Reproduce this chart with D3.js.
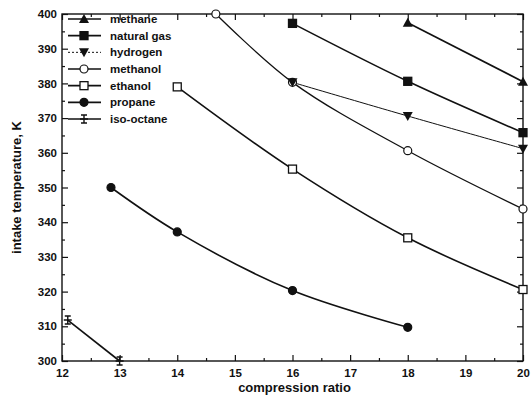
<!DOCTYPE html>
<html>
<head>
<meta charset="utf-8">
<script src="https://cdn.jsdelivr.net/npm/d3@7"></script>
<style>
  body { margin: 0; background: #fff; }
  text { font-family: "Liberation Sans", Arial, sans-serif; font-weight: bold; fill: #111; }
</style>
</head>
<body>
<div id="chart"></div>
<script>
// data
var fuels = ["methane", "natural gas", "hydrogen", "methanol", "ethanol", "propane", "iso-octane"];
var methane    = [[18, 397.5], [20, 380.5]];
var naturalGas = [[16, 397.3], [18, 380.6], [20, 365.8]];
var hydrogen   = [[16, 380.3], [18, 370.6], [20, 361.2]];
var methanol   = [[14.67, 400], [16, 380.3], [18, 360.6], [20, 343.8]];
var ethanol    = [[14, 379], [16, 355.3], [18, 335.5], [20, 320.6]];
var propane    = [[12.85, 350], [14, 337.2], [16, 320.3], [18, 309.7]];
var isoOctane  = [[12.1, 311.8], [13, 300]];
var xTicks = [12, 13, 14, 15, 16, 17, 18, 19, 20];
var yTicks = [300, 310, 320, 330, 340, 350, 360, 370, 380, 390, 400];

var series = [
  {name: fuels[0], pts: methane,    sym: "triUp",   w: 1.6},
  {name: fuels[1], pts: naturalGas, sym: "square",  w: 1.6},
  {name: fuels[2], pts: hydrogen,   sym: "triDown", w: 1.0, legendDash: "2,2"},
  {name: fuels[3], pts: methanol,   sym: "circleO", w: 1.3},
  {name: fuels[4], pts: ethanol,    sym: "squareO", w: 1.6},
  {name: fuels[5], pts: propane,    sym: "circle",  w: 1.6},
  {name: fuels[6], pts: isoOctane,  sym: "ibeam",   w: 1.6}
];

var width = 531, height = 403;
var margin = {top: 14, right: 8, bottom: 42, left: 62};

var svg = d3.select("#chart").append("svg")
    .attr("width", width)
    .attr("height", height);

var x = d3.scaleLinear().domain([12, 20]).range([margin.left, width - margin.right]);
var y = d3.scaleLinear().domain([300, 400]).range([height - margin.bottom, margin.top]);

var g = svg.append("g");

// frame
g.append("rect")
    .attr("x", x(12)).attr("y", y(400))
    .attr("width", x(20) - x(12)).attr("height", y(300) - y(400))
    .attr("fill", "none").attr("stroke", "#111").attr("stroke-width", 1.4);

// axes (ticks pointing inwards, minor ticks at halves)
var xMinor = d3.range(12.5, 20, 1);
var yMinor = d3.range(305, 400, 10);

var xAxis = g.append("g").attr("transform", "translate(0," + y(300) + ")")
    .call(d3.axisBottom(x).tickValues(xTicks).tickSize(-6).tickFormat(d3.format("d")));
g.append("g").attr("transform", "translate(0," + y(300) + ")")
    .call(d3.axisBottom(x).tickValues(xMinor).tickSize(-3).tickFormat(""));
g.append("g").attr("transform", "translate(0," + y(400) + ")")
    .call(d3.axisTop(x).tickValues(xTicks).tickSize(-6).tickFormat(""));
g.append("g").attr("transform", "translate(0," + y(400) + ")")
    .call(d3.axisTop(x).tickValues(xMinor).tickSize(-3).tickFormat(""));

var yAxis = g.append("g").attr("transform", "translate(" + x(12) + ",0)")
    .call(d3.axisLeft(y).tickValues(yTicks).tickSize(-6).tickFormat(d3.format("d")));
g.append("g").attr("transform", "translate(" + x(12) + ",0)")
    .call(d3.axisLeft(y).tickValues(yMinor).tickSize(-3).tickFormat(""));
g.append("g").attr("transform", "translate(" + x(20) + ",0)")
    .call(d3.axisRight(y).tickValues(yTicks).tickSize(-6).tickFormat(""));
g.append("g").attr("transform", "translate(" + x(20) + ",0)")
    .call(d3.axisRight(y).tickValues(yMinor).tickSize(-3).tickFormat(""));

svg.selectAll(".domain").remove();
svg.selectAll(".tick line").attr("stroke", "#111").attr("stroke-width", 1.2);
xAxis.selectAll("text").attr("dy", "1.1em").attr("y", 3).style("font-size", "11.5px");
yAxis.selectAll("text").attr("x", -5).style("font-size", "11.5px");

// axis titles
svg.append("text")
    .attr("x", (x(12) + x(20)) / 2 + 2).attr("y", height - 11)
    .attr("text-anchor", "middle").style("font-size", "13px")
    .text("compression ratio");
svg.append("text")
    .attr("transform", "translate(21," + ((y(300) + y(400)) / 2) + ") rotate(-90)")
    .attr("text-anchor", "middle").style("font-size", "13px")
    .text("intake temperature, K");

// marker drawing
function drawMarker(sel, sym, cx, cy) {
  var s = 4;
  if (sym == "triUp") {
    sel.append("path").attr("d", "M" + cx + "," + (cy - 5) + "L" + (cx + 5) + "," + (cy + 4) + "L" + (cx - 5) + "," + (cy + 4) + "Z")
      .attr("fill", "#111");
  } else if (sym == "triDown") {
    sel.append("path").attr("d", "M" + cx + "," + (cy + 5) + "L" + (cx + 5) + "," + (cy - 4) + "L" + (cx - 5) + "," + (cy - 4) + "Z")
      .attr("fill", "#111");
  } else if (sym == "square" || sym == "squareO") {
    sel.append("rect").attr("x", cx - s).attr("y", cy - s).attr("width", 2 * s).attr("height", 2 * s)
      .attr("fill", sym == "square" ? "#111" : "#fff").attr("stroke", "#111").attr("stroke-width", 1.3);
  } else if (sym == "circle" || sym == "circleO") {
    sel.append("circle").attr("cx", cx).attr("cy", cy).attr("r", s)
      .attr("fill", sym == "circle" ? "#111" : "#fff").attr("stroke", "#111").attr("stroke-width", 1.2);
  } else if (sym == "ibeam") {
    sel.append("path")
      .attr("d", "M" + (cx - 3) + "," + (cy - 4) + "H" + (cx + 3) + "M" + cx + "," + (cy - 4) + "V" + (cy + 4) +
                 "M" + (cx - 3) + "," + (cy + 4) + "H" + (cx + 3) + "M" + (cx - 4) + "," + cy + "H" + (cx + 4))
      .attr("stroke", "#111").attr("stroke-width", 1.4).attr("fill", "none");
  }
}

var line = d3.line()
    .x(function(d) { return x(d[0]); })
    .y(function(d) { return y(d[1]); })
    .curve(d3.curveCatmullRom.alpha(0.5));

var plot = svg.append("g");
series.forEach(function(s) {
  plot.append("path")
      .datum(s.pts)
      .attr("d", line)
      .attr("fill", "none")
      .attr("stroke", "#111")
      .attr("stroke-width", s.w);
});
// markers drawn last-series-first so the filled ones end up on top
series.slice().reverse().forEach(function(s) {
  var mg = plot.append("g");
  s.pts.forEach(function(p) { drawMarker(mg, s.sym, x(p[0]), y(p[1])); });
});

// legend
var legend = svg.append("g");
var legY = d3.scaleLinear().domain([0, 6]).range([19, 119]);
series.forEach(function(s, i) {
  var ly = legY(i);
  legend.append("line")
      .attr("x1", 68).attr("x2", 101).attr("y1", ly).attr("y2", ly)
      .attr("stroke", "#111").attr("stroke-width", s.legendDash ? 1 : 1.6)
      .attr("stroke-dasharray", s.legendDash || null);
  drawMarker(legend, s.sym, 84, ly);
  legend.append("text")
      .attr("x", 110).attr("y", ly).attr("dy", "0.35em")
      .style("font-size", "11.5px")
      .text(s.name);
});
</script>
</body>
</html>
